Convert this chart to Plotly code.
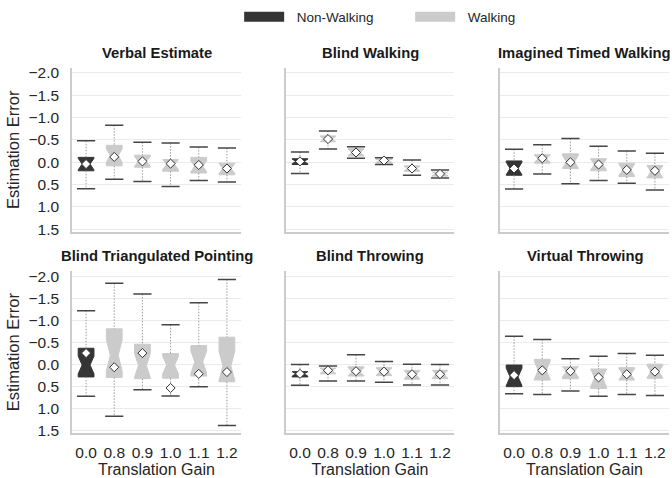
import plotly.graph_objects as go

gains = ["0.0", "0.8", "0.9", "1.0", "1.1", "1.2"]
panel_titles = ["Verbal Estimate", "Blind Walking", "Imagined Timed Walking",
                "Blind Triangulated Pointing", "Blind Throwing", "Virtual Throwing"]
y_ticks = [-2.0, -1.5, -1.0, -0.5, 0.0, 0.5, 1.0, 1.5]

# Verbal Estimate
verbal_lo = [-0.48, -0.83, -0.45, -0.43, -0.34, -0.32]
verbal_q1 = [-0.11, -0.38, -0.16, -0.06, -0.11, 0.02]
verbal_med = [0.04, -0.15, -0.02, 0.05, 0.09, 0.14]
verbal_q3 = [0.19, 0.08, 0.11, 0.20, 0.24, 0.28]
verbal_hi = [0.59, 0.38, 0.43, 0.54, 0.41, 0.44]
verbal_mean = [0.04, -0.12, -0.02, 0.03, 0.06, 0.14]
verbal_notch = [0.13, 0.15, 0.11, 0.11, 0.12, 0.11]

# Blind Walking
bwalk_lo = [-0.23, -0.70, -0.35, -0.10, -0.05, 0.17]
bwalk_q1 = [-0.08, -0.59, -0.31, -0.06, 0.08, 0.22]
bwalk_med = [-0.02, -0.52, -0.22, -0.04, 0.14, 0.26]
bwalk_q3 = [0.05, -0.46, -0.14, 0.02, 0.20, 0.31]
bwalk_hi = [0.25, -0.30, -0.09, 0.05, 0.29, 0.35]
bwalk_mean = [-0.02, -0.52, -0.22, -0.04, 0.14, 0.26]
bwalk_notch = [0.05, 0.06, 0.07, 0.04, 0.05, 0.04]

# Imagined Timed Walking
itw_lo = [-0.29, -0.39, -0.53, -0.36, -0.25, -0.20]
itw_q1 = [-0.03, -0.17, -0.19, -0.08, 0.02, 0.07]
itw_med = [0.14, -0.08, -0.01, 0.05, 0.17, 0.21]
itw_q3 = [0.29, 0.02, 0.14, 0.19, 0.32, 0.35]
itw_hi = [0.60, 0.26, 0.48, 0.41, 0.47, 0.62]
itw_mean = [0.14, -0.09, 0.00, 0.05, 0.17, 0.19]
itw_notch = [0.14, 0.08, 0.14, 0.12, 0.13, 0.13]

# Blind Triangulated Pointing
btp_lo = [-1.22, -1.84, -1.60, -0.90, -1.40, -1.93]
btp_q1 = [-0.37, -0.81, -0.46, -0.25, -0.43, -0.62]
btp_med = [0.01, -0.21, 0.02, 0.01, -0.06, 0.03]
btp_q3 = [0.28, 0.29, 0.32, 0.31, 0.26, 0.39]
btp_hi = [0.72, 1.17, 0.57, 0.71, 0.50, 1.38]
btp_mean = [-0.26, 0.06, -0.26, 0.53, 0.21, 0.17]
btp_notch = [0.20, 0.35, 0.27, 0.20, 0.25, 0.33]

# Blind Throwing
bthrow_lo = [0.00, 0.03, -0.22, -0.07, -0.01, 0.00]
bthrow_q1 = [0.16, 0.08, 0.05, 0.07, 0.13, 0.13]
bthrow_med = [0.21, 0.14, 0.16, 0.16, 0.23, 0.22]
bthrow_q3 = [0.28, 0.21, 0.26, 0.25, 0.33, 0.32]
bthrow_hi = [0.47, 0.37, 0.37, 0.40, 0.46, 0.46]
bthrow_mean = [0.21, 0.13, 0.15, 0.16, 0.22, 0.22]
bthrow_notch = [0.05, 0.06, 0.09, 0.08, 0.09, 0.09]

# Virtual Throwing
vthrow_lo = [-0.64, -0.57, -0.13, -0.19, -0.25, -0.21]
vthrow_q1 = [0.01, -0.12, 0.05, 0.10, 0.07, -0.01]
vthrow_med = [0.28, 0.13, 0.16, 0.30, 0.22, 0.16]
vthrow_q3 = [0.50, 0.35, 0.32, 0.54, 0.35, 0.31]
vthrow_hi = [0.66, 0.68, 0.60, 0.72, 0.68, 0.70]
vthrow_mean = [0.24, 0.13, 0.15, 0.29, 0.22, 0.16]
vthrow_notch = [0.20, 0.20, 0.12, 0.20, 0.13, 0.14]

panels = [
    (verbal_lo, verbal_q1, verbal_med, verbal_q3, verbal_hi, verbal_mean, verbal_notch),
    (bwalk_lo, bwalk_q1, bwalk_med, bwalk_q3, bwalk_hi, bwalk_mean, bwalk_notch),
    (itw_lo, itw_q1, itw_med, itw_q3, itw_hi, itw_mean, itw_notch),
    (btp_lo, btp_q1, btp_med, btp_q3, btp_hi, btp_mean, btp_notch),
    (bthrow_lo, bthrow_q1, bthrow_med, bthrow_q3, bthrow_hi, bthrow_mean, bthrow_notch),
    (vthrow_lo, vthrow_q1, vthrow_med, vthrow_q3, vthrow_hi, vthrow_mean, vthrow_notch),
]

DARK = "#353535"
LIGHT = "#cbcbcb"
FONT = "Liberation Sans, Arial, sans-serif"
TXT = "#262626"

W, H = 672, 478
ML, MR, MT, MB = 72, 3, 67, 45
pw, ph = W - ML - MR, H - MT - MB
xdom_px = [(72, 241), (286, 454), (500, 669)]
ydom_px = [(67, 231), (271, 433)]

fig = go.Figure()

for p, (lo, q1, med, q3, hi, mean, notch) in enumerate(panels):
    r, c = divmod(p, 3)
    ax = p + 1
    xa = "x" if ax == 1 else f"x{ax}"
    ya = "y" if ax == 1 else f"y{ax}"

    # whiskers (dotted)
    wx, wy = [], []
    for g, a, b, d, e in zip(gains, lo, q1, q3, hi):
        wx += [g, g, None, g, g, None]
        wy += [a, b, None, d, e, None]
    fig.add_trace(go.Scatter(x=wx, y=wy, mode="lines", xaxis=xa, yaxis=ya,
                             line=dict(color="#9a9a9a", width=1, dash="1.5px,1.5px"),
                             showlegend=False, hoverinfo="skip"))

    groups = [([0], DARK, "Non-Walking"), (list(range(1, 6)), LIGHT, "Walking")]
    for idx, col, name in groups:
        fig.add_trace(go.Box(
            x=[gains[i] for i in idx],
            q1=[q1[i] for i in idx], median=[med[i] for i in idx],
            q3=[q3[i] for i in idx],
            lowerfence=[q1[i] for i in idx], upperfence=[q3[i] for i in idx],
            notched=True, notchspan=[notch[i] for i in idx], notchwidth=0.25,
            fillcolor=col, line=dict(color=col, width=1), whiskerwidth=0,
            boxpoints=False, name=name, showlegend=False,
            xaxis=xa, yaxis=ya, hoverinfo="skip"))

    # caps
    cx, cy = [], []
    for g, a, e in zip(gains, lo, hi):
        cx += [g, g]
        cy += [a, e]
    fig.add_trace(go.Scatter(x=cx, y=cy, mode="markers", xaxis=xa, yaxis=ya,
                             marker=dict(symbol="line-ew", size=13,
                                         line=dict(color="#454545", width=1.5)),
                             showlegend=False, hoverinfo="skip"))
    # means
    fig.add_trace(go.Scatter(x=gains, y=mean, mode="markers", xaxis=xa, yaxis=ya,
                             marker=dict(symbol="diamond", size=7, color="white",
                                         line=dict(color="#333333", width=1)),
                             showlegend=False, hoverinfo="skip"))

    x0, x1 = xdom_px[c]
    y0, y1 = ydom_px[r]
    xkey = "xaxis" if ax == 1 else f"xaxis{ax}"
    ykey = "yaxis" if ax == 1 else f"yaxis{ax}"
    fig.layout[xkey] = dict(
        domain=[(x0 - ML) / pw, (x1 - ML) / pw], anchor=ya,
        type="category", categoryorder="array", categoryarray=gains,
        range=[-0.5, 5.5], showgrid=False, zeroline=False,
        showline=True, linecolor="#cccccc", linewidth=1.5,
        ticks="", showticklabels=(r == 1), ticklabelstandoff=5,
        tickfont=dict(size=15.5, color=TXT, family=FONT),
        title=dict(text="Translation Gain" if r == 1 else "",
                   font=dict(size=16, color=TXT, family=FONT), standoff=2))
    fig.layout[ykey] = dict(
        domain=[(H - MB - y1) / ph, (H - MB - y0) / ph], anchor=xa,
        range=[1.55, -2.11], tickvals=y_ticks, tickformat=".1f",
        showgrid=True, gridcolor="#ebebeb", gridwidth=1, zeroline=False,
        showline=True, linecolor="#cccccc", linewidth=1.5,
        ticks="", showticklabels=(c == 0), ticklabelstandoff=8,
        tickfont=dict(size=15.5, color=TXT, family=FONT),
        title=dict(text="Estimation Error" if c == 0 else "",
                   font=dict(size=16.5, color=TXT, family=FONT), standoff=5))
    fig.add_annotation(text=f"<b>{panel_titles[p]}</b>", xref=f"{xa} domain",
                       yref=f"{ya} domain", x=0.5, y=1, yanchor="bottom",
                       yshift=5, showarrow=False,
                       font=dict(size=14.8, color="#1a1a1a", family=FONT))

# legend entries
for name, col in [("Non-Walking", DARK), ("Walking", LIGHT)]:
    fig.add_trace(go.Scatter(x=[None], y=[None], mode="lines",
                             name="\u00a0\u00a0" + name,
                             line=dict(color=col, width=14),
                             xaxis="x", yaxis="y", hoverinfo="skip"))

fig.update_layout(
    width=W, height=H, margin=dict(l=ML, r=MR, t=MT, b=MB),
    plot_bgcolor="white", paper_bgcolor="white",
    boxmode="overlay", boxgap=0.2,
    legend=dict(orientation="h", x=0.28, xanchor="left", y=1.137,
                yanchor="middle", font=dict(size=13.5, color=TXT, family=FONT),
                itemwidth=40, entrywidth=116, bgcolor="rgba(0,0,0,0)"),
    font=dict(family=FONT, color=TXT),
)

fig.write_html("out.html")
